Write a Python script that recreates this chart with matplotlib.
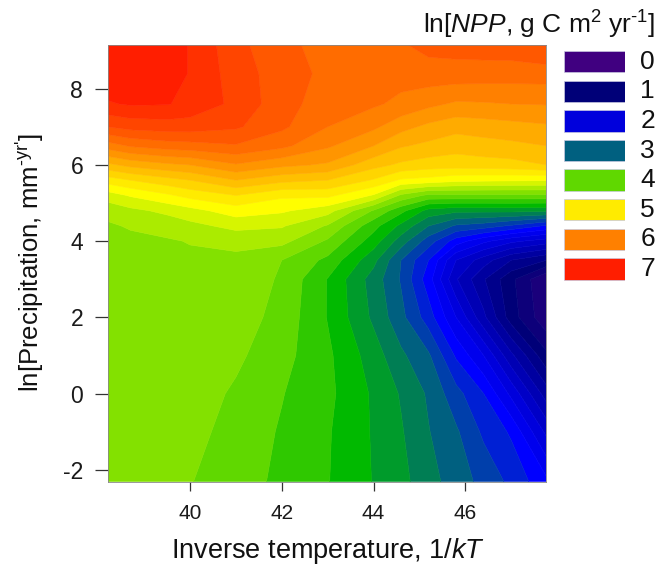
import numpy as np
import matplotlib
matplotlib.use("Agg")
import matplotlib.pyplot as plt
from matplotlib.colors import LinearSegmentedColormap, Normalize
from matplotlib.patches import Rectangle

plt.rcParams["font.family"] = ["Liberation Sans", "DejaVu Sans"]
plt.rcParams["mathtext.fontset"] = "custom"
plt.rcParams["mathtext.rm"] = "Liberation Sans"
plt.rcParams["mathtext.it"] = "Liberation Sans:italic"
plt.rcParams["mathtext.bf"] = "Liberation Sans:bold"
plt.rcParams["axes.unicode_minus"] = False

# ── Data ────────────────────────────────────────────────────────────────────

inv_temp = [38.2, 38.7, 39.52, 40.0, 41.0, 42.0, 43.0, 44.0, 44.6, 45.2, 45.8, 46.4, 47.0, 47.77]
ln_precip = [9.15, 8.4, 7.6, 7.0, 6.5, 6.0, 5.6, 5.2, 4.8, 4.4, 4.0, 3.5, 3.0, 2.0, 1.0, 0.0, -1.0, -2.31]

ln_npp = [
    [7.05, 7.05, 6.98, 6.89, 6.56, 6.36, 6.22, 6.20, 6.28, 6.36, 6.38, 6.40, 6.42, 6.52],
    [7.05, 7.05, 6.98, 6.89, 6.60, 6.40, 6.25, 6.20, 6.18, 6.22, 6.22, 6.21, 6.20, 6.20],
    [6.88, 6.92, 6.91, 6.84, 6.65, 6.38, 6.20, 6.13, 6.05, 5.95, 5.87, 5.88, 5.90, 5.91],
    [6.50, 6.57, 6.60, 6.60, 6.53, 6.34, 6.10, 5.94, 5.77, 5.65, 5.57, 5.60, 5.63, 5.67],
    [6.00, 6.12, 6.20, 6.22, 6.28, 6.15, 5.93, 5.70, 5.52, 5.45, 5.38, 5.42, 5.45, 5.50],
    [5.45, 5.56, 5.66, 5.70, 5.88, 5.75, 5.67, 5.37, 5.26, 5.20, 5.19, 5.21, 5.23, 5.30],
    [5.00, 5.10, 5.23, 5.30, 5.50, 5.36, 5.30, 5.08, 4.87, 4.83, 4.76, 4.74, 4.73, 4.72],
    [4.60, 4.72, 4.87, 4.97, 5.10, 4.94, 4.95, 4.68, 4.26, 4.05, 4.06, 4.06, 4.06, 4.06],
    [4.37, 4.45, 4.55, 4.63, 4.80, 4.73, 4.58, 4.08, 3.76, 3.43, 3.35, 3.35, 3.36, 3.34],
    [4.27, 4.32, 4.38, 4.44, 4.56, 4.52, 4.28, 3.77, 3.45, 3.10, 2.87, 2.80, 2.67, 2.47],
    [4.25, 4.25, 4.28, 4.31, 4.36, 4.36, 4.07, 3.60, 3.20, 2.80, 2.40, 2.15, 1.95, 1.80],
    [4.25, 4.23, 4.24, 4.26, 4.25, 4.10, 3.85, 3.36, 2.90, 2.50, 1.90, 1.60, 1.30, 1.10],
    [4.25, 4.22, 4.24, 4.25, 4.25, 4.07, 3.69, 3.21, 2.88, 2.39, 1.72, 1.32, 0.95, 0.50],
    [4.22, 4.22, 4.22, 4.23, 4.20, 4.03, 3.69, 3.26, 2.96, 2.60, 2.10, 1.55, 1.00, 0.55],
    [4.22, 4.20, 4.20, 4.20, 4.14, 3.97, 3.74, 3.40, 3.14, 2.93, 2.47, 2.10, 1.55, 0.95],
    [4.22, 4.20, 4.20, 4.20, 4.07, 3.91, 3.75, 3.47, 3.28, 3.07, 2.77, 2.50, 2.05, 1.40],
    [4.22, 4.20, 4.19, 4.17, 4.02, 3.88, 3.72, 3.48, 3.32, 3.11, 2.93, 2.66, 2.47, 1.85],
    [4.22, 4.20, 4.16, 4.11, 3.98, 3.86, 3.71, 3.49, 3.36, 3.18, 3.00, 2.84, 2.65, 2.35],
]

levels = np.arange(-0.1, 7.31, 0.2)
legend_vals = [0, 1, 2, 3, 4, 5, 6, 7]

xticks = [40, 42, 44, 46]
yticks = [-2, 0, 2, 4, 6, 8]

color_nodes = [
    (0.0, (64, 0, 128)), (1.0, (0, 0, 120)), (2.0, (0, 0, 220)), (2.4, (0, 0, 255)),
    (3.0, (0, 96, 128)), (3.6, (0, 185, 0)), (4.0, (96, 216, 0)), (4.2, (130, 225, 0)),
    (4.8, (255, 255, 0)), (5.0, (255, 235, 0)), (6.0, (255, 128, 0)), (7.0, (255, 30, 0)),
]

W, H = 656, 566

cmap = LinearSegmentedColormap.from_list(
    "npp", [(v / 7.0, tuple(c / 255 for c in rgb)) for v, rgb in color_nodes], N=512)
norm = Normalize(vmin=0, vmax=7)

# ── Plot ────────────────────────────────────────────────────────────────────

fig = plt.figure(figsize=(W / 100, H / 100), dpi=100)
ax = fig.add_axes([107.5 / W, (H - 481.5) / H, 438 / W, 436.5 / H])

cs = ax.contourf(inv_temp, ln_precip[::-1], np.array(ln_npp)[::-1], levels=levels,
                 cmap=cmap, norm=norm, antialiased=True)
cs.set_edgecolor("face")
cs.set_linewidth(0.4)

ax.set_xlim(38.2, 47.75)
ax.set_ylim(-2.31, 9.15)
ax.set_xticks(xticks)
ax.set_yticks(yticks)
ax.tick_params(axis="x", length=6.5, width=0.9, color="#333333", labelsize=15, pad=10, labelcolor="#1a1a1a")
ax.tick_params(axis="y", length=9.5, width=0.9, color="#333333", labelsize=16.5, pad=8, labelcolor="#1a1a1a")
for side in ax.spines.values():
    side.set_linewidth(0.6)
    side.set_color("#888888")

fig.text(328.5 / W, 1 - 550.5 / H, r"Inverse temperature, 1/$\mathit{kT}$",
         ha="center", va="center", fontsize=19.5, color="#111111")
fig.text(31 / W, 1 - 263 / H, r"ln[Precipitation, mm$^{\text{-yr'}}$]",
         ha="center", va="center", rotation=90, fontsize=18.5, color="#111111")
fig.text(655 / W, 1 - 25 / H, r"ln[$\mathit{NPP}$, g C m$^{2}$ yr$^{\text{-1}}$]",
         ha="right", va="center", fontsize=19, color="#111111")

# legend boxes, one per integer value
lax = fig.add_axes([564 / W, (H - 287.8) / H, 61 / W, 236.8 / H])
lax.set_xlim(0, 1)
lax.set_ylim(len(legend_vals), 0)
lax.axis("off")
for i, v in enumerate(legend_vals):
    lax.add_patch(Rectangle((0, i), 1, 0.726, facecolor=cmap(norm(v)),
                            edgecolor="#c8c8e0", linewidth=0.5))
    lax.text(1.25, i + 0.363, str(v), ha="left", va="center", fontsize=19,
             color="#111111", clip_on=False)

fig.savefig("out.png", dpi=100)
plt.close(fig)
